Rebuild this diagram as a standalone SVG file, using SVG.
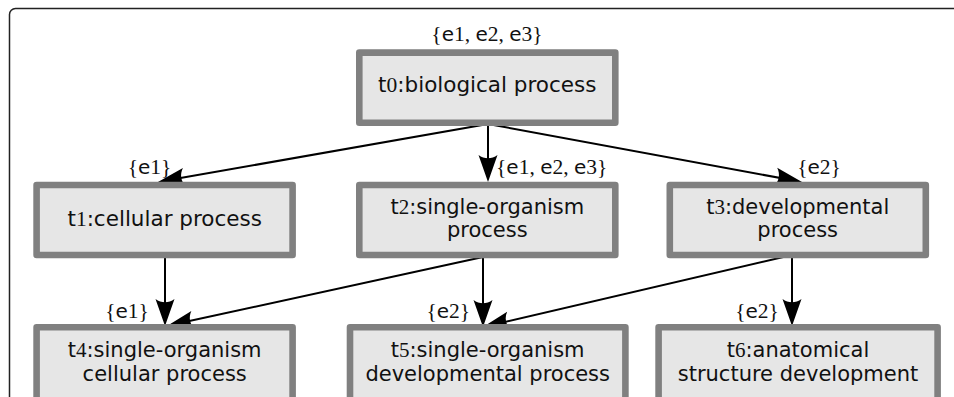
<svg xmlns="http://www.w3.org/2000/svg" width="954" height="397" viewBox="0 0 954 397">
<style>
.box{fill:#e6e6e6;stroke:#808080;stroke-width:6.6;stroke-linejoin:round}
.n{font-family:"DejaVu Sans",sans-serif;font-size:21px;fill:#111;text-anchor:middle}
.d{font-family:"Liberation Serif",serif}
.l{font-family:"Liberation Serif",serif;font-size:21.5px;fill:#111}
.e{font-family:"DejaVu Sans",sans-serif;font-size:20px}
.c{fill:none;stroke:#000;stroke-width:2;marker-end:url(#ah)}
</style>
<defs>
<marker id="ah" markerUnits="userSpaceOnUse" orient="auto" refX="-4" refY="0" markerWidth="40" markerHeight="40" viewBox="-30 -15 40 30" overflow="visible">
<path d="M0,0 L-27,-9.5 C-22.6,-3.6 -22.6,3.6 -27,9.5 Z" fill="#000"/>
</marker>
</defs>
<rect x="9.5" y="8.5" width="970" height="420" rx="6" fill="#fff" stroke="#222" stroke-width="1.5"/>
<g id="connectors">
<path class="c" d="M488,124 L161.9,181.3"/>
<path class="c" d="M488,124 L488,178"/>
<path class="c" d="M488,124 L798.1,181.3"/>
<path class="c" d="M165,258 L165,322"/>
<path class="c" d="M483,257 L170.9,325.1"/>
<path class="c" d="M483,257 L483,323"/>
<path class="c" d="M792,255 L486.9,326.1"/>
<path class="c" d="M792,255 L792,322"/>
</g>
<g id="labels">
<text class="l" x="487" y="41" text-anchor="middle">{<tspan class="e">e</tspan>1, <tspan class="e">e</tspan>2, <tspan class="e">e</tspan>3}</text>
<text class="l" x="149.5" y="174" text-anchor="middle">{<tspan class="e">e</tspan>1}</text>
<text class="l" x="496" y="174">{<tspan class="e">e</tspan>1, <tspan class="e">e</tspan>2, <tspan class="e">e</tspan>3}</text>
<text class="l" x="819" y="174" text-anchor="middle">{<tspan class="e">e</tspan>2}</text>
<text class="l" x="127" y="318" text-anchor="middle">{<tspan class="e">e</tspan>1}</text>
<text class="l" x="448.3" y="318" text-anchor="middle">{<tspan class="e">e</tspan>2}</text>
<text class="l" x="757" y="318" text-anchor="middle">{<tspan class="e">e</tspan>2}</text>
</g>
<g id="t0">
<rect class="box" x="359.3" y="52.6" width="256" height="70.1"/>
<text class="n" x="487.3" y="92" style="font-size:21.5px">t<tspan class="d">0</tspan>:biological process</text>
</g>
<g id="t1">
<rect class="box" x="36.6" y="185" width="256" height="70"/>
<text class="n" x="164.7" y="226" style="font-size:21.5px">t<tspan class="d">1</tspan>:cellular process</text>
</g>
<g id="t2">
<rect class="box" x="359.3" y="185" width="256" height="70"/>
<text class="n" x="487.3" y="214">t<tspan class="d">2</tspan>:single-organism</text>
<text class="n" x="487.3" y="237">process</text>
</g>
<g id="t3">
<rect class="box" x="669.8" y="185" width="256" height="70"/>
<text class="n" x="797.7" y="214">t<tspan class="d">3</tspan>:developmental</text>
<text class="n" x="797.7" y="237">process</text>
</g>
<g id="t4">
<rect class="box" x="36.6" y="327.3" width="256" height="80"/>
<text class="n" x="164.7" y="357">t<tspan class="d">4</tspan>:single-organism</text>
<text class="n" x="164.7" y="380.5">cellular process</text>
</g>
<g id="t5">
<rect class="box" x="350" y="327.3" width="275.4" height="80"/>
<text class="n" x="487.7" y="357">t<tspan class="d">5</tspan>:single-organism</text>
<text class="n" x="487.7" y="380.5">developmental process</text>
</g>
<g id="t6">
<rect class="box" x="658.6" y="327.3" width="279" height="80"/>
<text class="n" x="798" y="357">t<tspan class="d">6</tspan>:anatomical</text>
<text class="n" x="798" y="380.5">structure development</text>
</g>
</svg>
